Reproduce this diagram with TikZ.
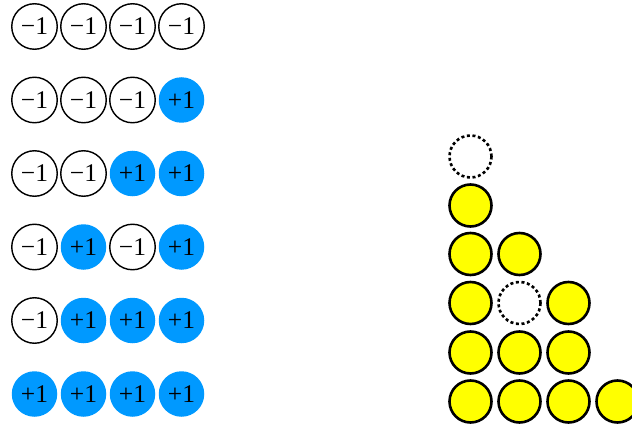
\documentclass[tikz,border=0pt]{standalone}
\usepackage{fontspec}
\setmainfont{Liberation Serif}
\definecolor{spinblue}{HTML}{0099FF}
\definecolor{coinyellow}{HTML}{FFFF00}
\begin{document}
\begin{tikzpicture}[x=1pt,y=-1pt,
  spin/.style={circle,minimum size=45.5pt,inner sep=0pt,font=\fontsize{25.5}{30}\selectfont},
  down/.style={spin,draw=black,line width=1.4pt,fill=white},
  up/.style={spin,fill=spinblue},
  coin/.style={circle,minimum size=42pt,inner sep=0pt,draw=black,line width=2.6pt,fill=coinyellow},
  hole/.style={circle,minimum size=42pt,inner sep=0pt,draw=black,line width=2.6pt,dash pattern=on 3pt off 2.6pt}]
\useasboundingbox (0,0) rectangle (632,425);
% left: spin configurations
\foreach \r/\cfg in {0/{0,0,0,0},1/{0,0,0,1},2/{0,0,1,1},3/{0,1,0,1},4/{0,1,1,1},5/{1,1,1,1}}{
  \foreach \v [count=\c from 0] in \cfg {
    \ifnum\v=0
      \node[down] (s\r\c) at ({34.5+49*\c},{26.5+73.5*\r}) {−1};
    \else
      \node[up] (s\r\c) at ({34.5+49*\c},{26.5+73.5*\r}) {+1};
    \fi
  }
}
% right: stacks
\node[hole] (h0) at (470.5,156.5) {};
\node[coin] (c11) at (470.5,205.5) {};
\node[coin] (c21) at (470.5,254) {};
\node[coin] (c22) at (519.5,254) {};
\node[coin] (c31) at (470.5,303) {};
\node[hole] (h1) at (519.5,303) {};
\node[coin] (c33) at (568.5,303) {};
\node[coin] (c41) at (470.5,352.5) {};
\node[coin] (c42) at (519.5,352.5) {};
\node[coin] (c43) at (568.5,352.5) {};
\node[coin] (c51) at (470.5,401.5) {};
\node[coin] (c52) at (519.5,401.5) {};
\node[coin] (c53) at (568.5,401.5) {};
\node[coin] (c54) at (617.5,401.5) {};
\end{tikzpicture}
\end{document}
